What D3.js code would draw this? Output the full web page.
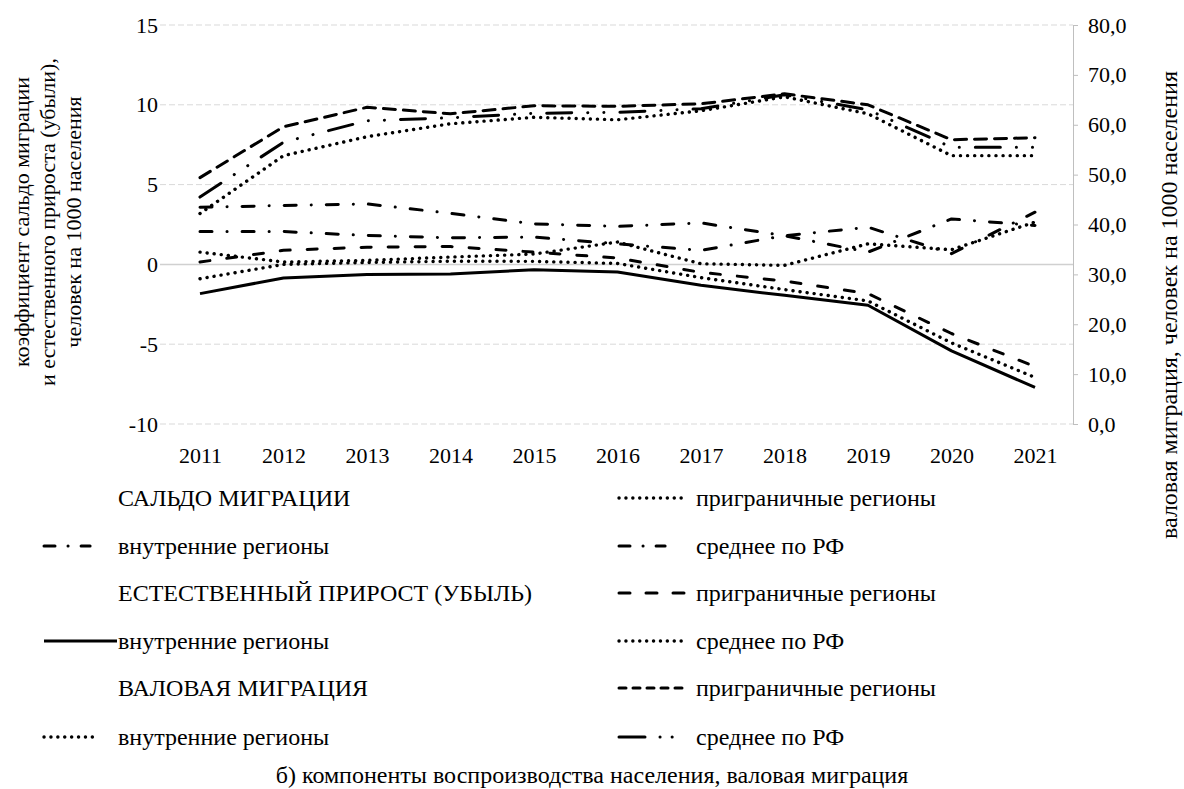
<!DOCTYPE html>
<html lang="ru">
<head>
<meta charset="utf-8">
<script src="https://cdn.jsdelivr.net/npm/d3@7"></script>
<style>
  html, body { margin: 0; padding: 0; background: #fff; }
  svg { display: block; }
  svg text { font-family: "Liberation Serif", "Times New Roman", "Liberation Sans", serif; fill: #000; }
</style>
</head>
<body>
<svg id="chart" width="1184" height="789"></svg>
<script>
// Years on the horizontal axis
const years = [2011, 2012, 2013, 2014, 2015, 2016, 2017, 2018, 2019, 2020, 2021];

// Net migration rate, per 1000 population (left axis)
const saldoInner  = [3.58, 3.69, 3.79, 3.20, 2.54, 2.38, 2.60, 1.80, 0.77, 2.85, 2.44];
const saldoBorder = [0.77, 0.15, 0.25, 0.46, 0.65, 1.40, 0.04, -0.06, 1.29, 0.92, 2.65];
const saldoRF     = [2.06, 2.06, 1.81, 1.67, 1.71, 1.29, 0.88, 1.80, 2.33, 0.67, 3.27];

// Natural increase (decrease), per 1000 population (left axis)
const natInner  = [-1.83, -0.85, -0.64, -0.60, -0.33, -0.48, -1.31, -1.94, -2.56, -5.42, -7.71];
const natBorder = [0.15, 0.88, 1.08, 1.12, 0.77, 0.40, -0.50, -1.04, -1.83, -4.33, -6.40];
const natRF     = [-0.90, 0.00, 0.12, 0.20, 0.19, 0.06, -0.83, -1.58, -2.29, -4.92, -7.08];

// Gross migration, per 1000 population (right axis)
const grossInner  = [42.2, 53.8, 57.6, 60.2, 61.5, 61.0, 62.8, 65.6, 62.2, 53.8, 53.8];
const grossBorder = [49.4, 59.6, 63.5, 62.2, 63.8, 63.7, 64.2, 66.2, 64.0, 57.0, 57.4];
const grossRF     = [45.5, 56.5, 60.8, 61.4, 62.3, 62.5, 63.2, 66.0, 63.0, 55.5, 55.5];

// Tick values
const leftTicks  = [-10, -5, 0, 5, 10, 15];
const rightTicks = [0, 10, 20, 30, 40, 50, 60, 70, 80];

// Line styles; legend samples use their own, shorter patterns
const styles = {
  dashDot:        { dash: "12,15,0.1,15", cap: "round", legendDash: "11,13,0.1,13,9,200" },
  dotted:         { dash: "0.1,7", cap: "round", legendDash: "0.1,6.8" },
  dashed:         { dash: "10,17", cap: "round", legendDash: "11,16" },
  solid:          { dash: null, cap: "butt", legendDash: null },
  shortDash:      { dash: "12,8", cap: "round", legendDash: "7,7" },
  longDashDotDot: { dash: "25,16,0.1,16,0.1,16", cap: "round", legendDash: "26,15,0.1,12,0.1,200" }
};

const series = [
  { values: saldoInner,  axis: "left",  style: "dashDot" },
  { values: saldoBorder, axis: "left",  style: "dotted" },
  { values: saldoRF,     axis: "left",  style: "dashDot" },
  { values: natInner,    axis: "left",  style: "solid" },
  { values: natBorder,   axis: "left",  style: "dashed" },
  { values: natRF,       axis: "left",  style: "dotted" },
  { values: grossInner,  axis: "right", style: "dotted" },
  { values: grossBorder, axis: "right", style: "shortDash" },
  { values: grossRF,     axis: "right", style: "longDashDotDot" }
];

// Legend: two columns, group headers have no sample line
const legendLeft = [
  { label: "САЛЬДО МИГРАЦИИ", style: null },
  { label: "внутренние регионы", style: "dashDot" },
  { label: "ЕСТЕСТВЕННЫЙ ПРИРОСТ (УБЫЛЬ)", style: null },
  { label: "внутренние регионы", style: "solid" },
  { label: "ВАЛОВАЯ МИГРАЦИЯ", style: null },
  { label: "внутренние регионы", style: "dotted" }
];
const legendRight = [
  { label: "приграничные регионы", style: "dotted" },
  { label: "среднее по РФ", style: "dashDot" },
  { label: "приграничные регионы", style: "dashed" },
  { label: "среднее по РФ", style: "dotted" },
  { label: "приграничные регионы", style: "shortDash" },
  { label: "среднее по РФ", style: "longDashDotDot" }
];

const svg = d3.select("#chart");
const FONT = '"Liberation Serif", "Times New Roman", "Liberation Sans", serif';
const plotLeft = 160, plotRight = 1073, plotTop = 25, plotBottom = 424;
const tickSize = 22, legendSize = 24, captionSize = 24;

const x = d3.scalePoint().domain(years).range([200, 1035]);
const yL = d3.scaleLinear().domain([-10, 15]).range([plotBottom, plotTop]);
const yR = d3.scaleLinear().domain([0, 80]).range([plotBottom, plotTop]);

// Gridlines
svg.append("g").selectAll("line")
  .data(leftTicks)
  .join("line")
  .attr("x1", plotLeft).attr("x2", plotRight)
  .attr("y1", d => yL(d)).attr("y2", d => yL(d))
  .attr("stroke", d => d === 0 ? "#d0d0d0" : "#d9d9d9")
  .attr("stroke-width", d => d === 0 ? 1.5 : 1)
  .attr("stroke-dasharray", d => d === 0 ? null : "6,3");

function styleText(sel, size) {
  sel.style("font-family", FONT).style("font-size", size + "px").attr("fill", "#000");
}

// Left axis
const gL = svg.append("g")
  .attr("transform", `translate(${plotLeft},0)`)
  .call(d3.axisLeft(yL).tickValues(leftTicks).tickSize(0).tickPadding(2)
    .tickFormat(d => d < 0 ? "-" + Math.abs(d) : d));
gL.attr("font-family", null);
gL.select(".domain").remove();
gL.selectAll("text").call(styleText, tickSize);

// Right axis
const gR = svg.append("g")
  .attr("transform", `translate(${plotRight},0)`)
  .call(d3.axisRight(yR).tickValues(rightTicks).tickSize(5).tickPadding(10)
    .tickFormat(d => d3.format(".1f")(d).replace(".", ",")));
gR.attr("font-family", null);
gR.select(".domain").attr("stroke", "#bfbfbf").attr("stroke-width", 1);
gR.selectAll(".tick line").attr("stroke", "#bfbfbf");
gR.selectAll("text").call(styleText, tickSize);

// Bottom axis
const gX = svg.append("g")
  .attr("transform", `translate(0,${plotBottom})`)
  .call(d3.axisBottom(x).tickSize(0).tickPadding(23).tickFormat(d => String(d)));
gX.attr("font-family", null);
gX.select(".domain").remove();
gX.selectAll("text").call(styleText, tickSize);

// Series lines
function applyStyle(sel, key, legend) {
  const s = styles[key];
  const dash = legend ? s.legendDash : s.dash;
  sel.attr("fill", "none")
    .attr("stroke", "#000")
    .attr("stroke-width", key === "dotted" ? 3.4 : 3)
    .attr("stroke-linecap", s.cap)
    .attr("stroke-linejoin", "round")
    .attr("stroke-dasharray", dash);
}

const lineGroup = svg.append("g");
series.forEach(s => {
  const yScale = s.axis === "left" ? yL : yR;
  const gen = d3.line().x((d, i) => x(years[i])).y(d => yScale(d));
  lineGroup.append("path")
    .datum(s.values)
    .attr("d", gen)
    .call(applyStyle, s.style, false);
});

// Axis titles
const leftTitle = ["коэффициент сальдо миграции", "и естественного прироста (убыли),", "человек на 1000 населения"];
svg.append("g").selectAll("text")
  .data(leftTitle)
  .join("text")
  .attr("transform", (d, i) => `translate(${29 + i * 26},222) rotate(-90)`)
  .attr("text-anchor", "middle")
  .call(styleText, tickSize)
  .text(d => d);

svg.append("text")
  .attr("transform", "translate(1177,305) rotate(-90)")
  .attr("text-anchor", "middle")
  .call(styleText, 24)
  .text("валовая миграция, человек на 1000 населения");

// Legend
const rowY = [498, 546, 593, 641, 688, 737];
function drawLegend(entries, sx, tx, sampleLen) {
  const g = svg.append("g");
  entries.forEach((e, i) => {
    const y = rowY[i];
    if (e.style) {
      g.append("line")
        .attr("x1", sx).attr("x2", sx + sampleLen(e.style))
        .attr("y1", y).attr("y2", y)
        .call(applyStyle, e.style, true);
    }
    g.append("text")
      .attr("x", tx).attr("y", y)
      .attr("dy", "0.35em")
      .call(styleText, legendSize)
      .text(e.label);
  });
}
drawLegend(legendLeft, 44, 118, k => k === "solid" ? 73 : k === "dotted" ? 53 : 70);
drawLegend(legendRight, 619, 696, () => 68);

// Caption
svg.append("text")
  .attr("x", 592).attr("y", 775)
  .attr("dy", "0.35em")
  .attr("text-anchor", "middle")
  .call(styleText, captionSize)
  .text("б) компоненты воспроизводства населения, валовая миграция");
</script>
</body>
</html>
